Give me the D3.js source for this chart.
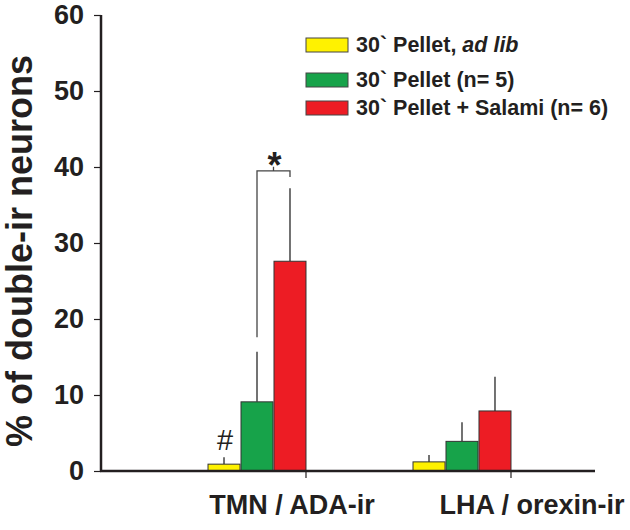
<!DOCTYPE html>
<html>
<head>
<meta charset="utf-8">
<script src="https://cdn.jsdelivr.net/npm/d3@7"></script>
<style>
  body { margin: 0; background: #fff; }
  text { font-family: "Liberation Sans", Arial, sans-serif; fill: #231f20; }
</style>
</head>
<body>
<main></main>
<script>
// data
let categories = ["TMN / ADA-ir", "LHA / orexin-ir"];
let seriesNames = ["30` Pellet, ad lib", "30` Pellet (n= 5)", "30` Pellet + Salami (n= 6)"];
let seriesColors = ["#fff200", "#17a34a", "#ed1c24"];
let adLib = [0.9, 1.2];
let pellet = [9.1, 3.9];
let salami = [27.6, 7.9];
let adLibErr = [0.9, 0.9];
let pelletErr = [6.6, 2.5];
let salamiErr = [9.6, 4.5];
let yTicks = [0, 10, 20, 30, 40, 50, 60];
let labelShift = [-14, 21];

let values = [adLib, pellet, salami];
let errors = [adLibErr, pelletErr, salamiErr];

let width = 630, height = 530;

let svg = d3.select('main')
    .append('svg')
    .attr('width', width)
    .attr('height', height);

let y = d3.scaleLinear()
    .domain([0, 60])
    .range([471, 15]);

let x0 = d3.scaleBand()
    .domain(categories)
    .range([101, 618])
    .paddingInner(0.522)
    .paddingOuter(0.522);

let x1 = d3.scaleBand()
    .domain(d3.range(seriesNames.length))
    .range([0, x0.bandwidth()])
    .paddingInner(0.03);

// bars
let groups = svg.selectAll('g.grp')
    .data(categories)
    .enter()
    .append('g')
    .attr('class', 'grp')
    .attr('transform', d => `translate(${x0(d)},0)`);

groups.each(function(cat, ci) {
    let g = d3.select(this);
    values.forEach((vals, si) => {
        let cx = x1(si) + x1.bandwidth() / 2;
        // error bar, upper half only
        g.append('line')
            .attr('x1', cx)
            .attr('x2', cx)
            .attr('y1', y(vals[ci]))
            .attr('y2', y(vals[ci] + errors[si][ci]))
            .attr('stroke', '#444')
            .attr('stroke-width', 1.5);
        g.append('rect')
            .attr('x', x1(si))
            .attr('y', y(vals[ci]))
            .attr('width', x1.bandwidth())
            .attr('height', y(0) - y(vals[ci]))
            .attr('fill', seriesColors[si])
            .attr('stroke', '#333')
            .attr('stroke-width', 1);
    });
});

// y axis
let yAxis = svg.append('g')
    .attr('transform', 'translate(101,0)')
    .call(d3.axisLeft(y).tickValues(yTicks).tickSize(7).tickPadding(10));
yAxis.select('.domain').attr('stroke', '#231f20').attr('stroke-width', 2.5)
    .attr('d', `M0,${y(60)}V${y(0)}`);
yAxis.selectAll('.tick line').attr('stroke', '#231f20').attr('stroke-width', 1.2);
yAxis.selectAll('.tick text')
    .style('font-size', '27px')
    .style('font-weight', 'bold')
    .attr('fill', '#231f20');

// x axis
let xAxis = svg.append('g')
    .attr('transform', `translate(0,${y(0)})`);
xAxis.append('line')
    .attr('x1', 100)
    .attr('x2', 595)
    .attr('stroke', '#231f20')
    .attr('stroke-width', 2.5);
xAxis.selectAll('line.tk')
    .data(categories)
    .enter()
    .append('line')
    .attr('class', 'tk')
    .attr('x1', d => x0(d) + x0.bandwidth())
    .attr('x2', d => x0(d) + x0.bandwidth())
    .attr('y1', 0)
    .attr('y2', 7)
    .attr('stroke', '#231f20')
    .attr('stroke-width', 1.2);
xAxis.selectAll('text.cat')
    .data(categories)
    .enter()
    .append('text')
    .attr('class', 'cat')
    .attr('x', (d, i) => x0(d) + x0.bandwidth() + labelShift[i])
    .attr('y', 43)
    .attr('text-anchor', 'middle')
    .style('font-size', '27px')
    .style('font-weight', 'bold')
    .text(d => d);

// y title
svg.append('text')
    .attr('transform', 'translate(32,251) rotate(-90)')
    .attr('text-anchor', 'middle')
    .style('font-size', '36px')
    .style('font-weight', 'bold')
    .text('% of double-ir neurons');

// significance marks
let tmn = categories[0];
let gx = x0(tmn) + x1(1) + x1.bandwidth() / 2;
let rx = x0(tmn) + x1(2) + x1.bandwidth() / 2;
let bracketTop = y(39.5);
svg.append('path')
    .attr('d', `M${gx},${y(17.6)}V${bracketTop}H${rx}V${y(38.7)}M${(gx + rx) / 2},${bracketTop}v-4`)
    .attr('fill', 'none')
    .attr('stroke', '#444')
    .attr('stroke-width', 1.3);
svg.append('text')
    .attr('x', (gx + rx) / 2 + 1)
    .attr('y', bracketTop + 7)
    .attr('text-anchor', 'middle')
    .style('font-size', '36px')
    .style('font-weight', 'bold')
    .text('*');
svg.append('text')
    .attr('x', x0(tmn) + x1(0) + x1.bandwidth() / 2 + 1)
    .attr('y', y(adLib[0] + adLibErr[0]) - 7)
    .attr('text-anchor', 'middle')
    .style('font-size', '29px')
    .text('#');

// legend
let legendRows = [52, 87, 115];
let legend = svg.selectAll('g.leg')
    .data(seriesNames)
    .enter()
    .append('g')
    .attr('class', 'leg')
    .attr('transform', (d, i) => `translate(306,${legendRows[i]})`);
legend.append('rect')
    .attr('x', 0)
    .attr('y', -14)
    .attr('width', 42)
    .attr('height', 14)
    .attr('fill', (d, i) => seriesColors[i])
    .attr('stroke', '#444')
    .attr('stroke-width', 1);
let legendText = legend.append('text')
    .attr('x', 50)
    .attr('y', 0)
    .style('font-size', '21.5px')
    .style('font-weight', 'bold');
legendText.each(function(d) {
    let t = d3.select(this);
    if (d.indexOf('ad lib') >= 0) {
        t.append('tspan').text('30` Pellet, ');
        t.append('tspan').style('font-style', 'italic').text('ad lib');
    } else {
        t.text(d);
    }
});
</script>
</body>
</html>
